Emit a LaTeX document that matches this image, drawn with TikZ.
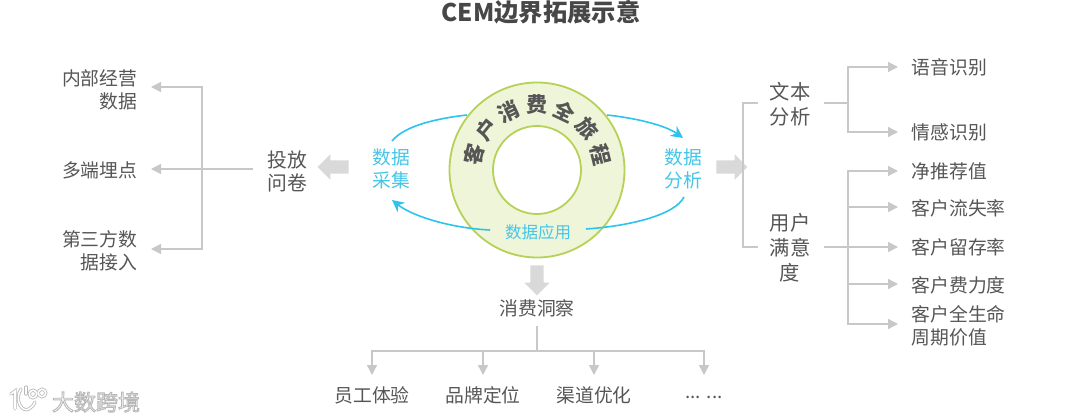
\documentclass[tikz,border=0pt]{standalone}
\usepackage{fontspec}
\setmainfont{Noto Sans CJK SC}
\usetikzlibrary{arrows.meta,shapes.arrows}
\definecolor{txt}{HTML}{565656}
\definecolor{conn}{HTML}{C8C8C8}
\definecolor{fat}{HTML}{D9D9D9}
\definecolor{sky}{HTML}{45C6E8}
\definecolor{skyline}{HTML}{2CC4EC}
\definecolor{ringfill}{HTML}{EFF5D8}
\definecolor{ringline}{HTML}{B5D258}
\tikzset{
  lbl/.style={inner sep=0pt,text=txt,font=\fontsize{18.8}{23}\selectfont},
  leftlbl/.style={lbl,align=right,anchor=east},
  rightlbl/.style={lbl,align=left,anchor=west},
  midlbl/.style={lbl,align=center},
  biglbl/.style={lbl,align=center,font=\fontsize{20.3}{25}\selectfont},
  bluelbl/.style={midlbl,text=sky},
  link/.style={draw=conn,line width=1.4pt},
  linkarrow/.style={link,-{Triangle[length=10pt,width=10pt,fill=conn]}},
  loopline/.style={draw=skyline,line width=1.6pt},
  looparrow/.style={loopline,-{Stealth[length=12pt,width=12pt,fill=skyline]}},
  fatarrow/.style={single arrow,fill=fat,draw=none,minimum height=31pt,single arrow head extend=6pt,single arrow head indent=0pt,inner sep=0pt},
  ringchar/.style={inner sep=0pt,text=txt,font=\fontsize{21}{21}\selectfont\bfseries},
  wmark/.style={inner sep=0pt,font=\fontsize{22}{22}\selectfont},
  wmglow/.style={draw=black!28,line width=3.2pt,line cap=round},
  wmline/.style={draw=white,line width=1.6pt,line cap=round}
}
\begin{document}
\begin{tikzpicture}[x=1pt,y=-1pt]
\useasboundingbox (0,0) rectangle (1080,420);
\fill[white] (0,0) rectangle (1080,420);

\node[inner sep=0pt,text=black!72,font=\fontsize{24.3}{25}\selectfont\bfseries] (title) at (541,12) {CEM边界拓展示意};

% ring
\node[circle,draw=ringline,fill=ringfill,line width=1.8pt,minimum size=175pt,inner sep=0pt] (outer) at (537,170) {};
\node[circle,draw=ringline,fill=white,line width=1.8pt,minimum size=88pt,inner sep=0pt] (inner) at (537,170) {};
\foreach \c/\a [count=\i] in {客/-76.5,户/-51,消/-25.5,费/0,全/25.5,旅/51,程/76.5}
  \node[ringchar,rotate=-\a] (rc\i) at ({537+65*sin(\a)},{170-65*cos(\a)}) {\c};

% loop labels
\node[bluelbl] (collect) at (391,169) {数据\\采集};
\node[bluelbl] (analyse) at (683,169) {数据\\分析};
\node[bluelbl,font=\fontsize{16.5}{20}\selectfont] (apply) at (538,232) {数据应用};

% loop arrows
\coordinate (tl1) at (392,141); \coordinate (tl2) at (467,115);
\coordinate (tr1) at (607,115); \coordinate (tr2) at (683,138);
\coordinate (br1) at (684,197); \coordinate (br2) at (586,229);
\coordinate (bl1) at (490,230); \coordinate (bl2) at (392,200);
\draw[loopline] (tl1) .. controls (405,125) and (440,118) .. (tl2);
\draw[looparrow] (tr1) .. controls (635,118) and (665,125) .. (tr2);
\draw[loopline] (br1) .. controls (675,215) and (630,226) .. (br2);
\draw[looparrow] (bl1) .. controls (450,228) and (412,216) .. (bl2);

% fat arrows
\node[fatarrow,rotate=180] (fatL) at (336.5,167) {\rule{0pt}{13pt}};
\node[fatarrow] (fatR) at (728.5,167) {\rule{0pt}{13pt}};
\node[fatarrow,rotate=-90,minimum height=30pt] (fatD) at (537,277) {\rule{0pt}{13pt}};

% left side
\node[leftlbl] (l1) at (137.5,89.5) {内部经营\\数据};
\node[leftlbl] (l2) at (137.5,170) {多端埋点};
\node[leftlbl] (l3) at (137.5,250.5) {第三方数\\据接入};
\node[biglbl,font=\fontsize{19.8}{23}\selectfont] (survey) at (287,171.5) {投放\\问卷};
\coordinate (ljt) at (202,87); \coordinate (ljm) at (202,169); \coordinate (ljb) at (202,249);
\coordinate (lt1) at (151,87); \coordinate (lt2) at (151,169); \coordinate (lt3) at (151,249);
\coordinate (ls) at (253,169);
\draw[linkarrow] (ls) -- (lt2);
\draw[linkarrow] (ljm) -- (ljt) -- (lt1);
\draw[linkarrow] (ljm) -- (ljb) -- (lt3);

% right side
\node[biglbl] (text) at (790,104.5) {文本\\分析};
\node[biglbl] (sat) at (790,248) {用户\\满意\\度};
\coordinate (rbt) at (743,103); \coordinate (rbb) at (743,247);
\coordinate (rs1) at (758,103); \coordinate (rs2) at (758,247);
\draw[link] (rs1) -- (rbt) -- (rbb) -- (rs2);

\node[rightlbl] (r1) at (911.5,67) {语音识别};
\node[rightlbl] (r2) at (911.5,132) {情感识别};
\node[rightlbl] (r3) at (911.5,171) {净推荐值};
\node[rightlbl] (r4) at (911.5,208) {客户流失率};
\node[rightlbl] (r5) at (911.5,247) {客户留存率};
\node[rightlbl] (r6) at (911.5,285) {客户费力度};
\node[rightlbl] (r7) at (911.5,325.5) {客户全生命\\周期价值};

\coordinate (ta) at (824,103); \coordinate (tj) at (848,103);
\coordinate (tjt) at (848,67); \coordinate (tjb) at (848,132);
\coordinate (t1) at (898,67); \coordinate (t2) at (898,132);
\draw[link] (ta) -- (tj);
\draw[linkarrow] (tj) -- (tjt) -- (t1);
\draw[linkarrow] (tj) -- (tjb) -- (t2);

\coordinate (sa) at (824,247); \coordinate (sj) at (848,247);
\coordinate (sjt) at (848,171); \coordinate (sj4) at (848,207);
\coordinate (sj6) at (848,284); \coordinate (sjb) at (848,324);
\coordinate (s3) at (898,171); \coordinate (s4) at (898,207); \coordinate (s5) at (898,247);
\coordinate (s6) at (898,284); \coordinate (s7) at (898,324);
\draw[linkarrow] (sa) -- (s5);
\draw[linkarrow] (sj) -- (sjt) -- (s3);
\draw[linkarrow] (sj4) -- (s4);
\draw[linkarrow] (sj6) -- (s6);
\draw[linkarrow] (sj) -- (sjb) -- (s7);

% bottom
\node[midlbl] (insight) at (537,308) {消费洞察};
\node[midlbl] (b1) at (372,395) {员工体验};
\node[midlbl] (b2) at (483,395) {品牌定位};
\node[midlbl] (b3) at (594,395) {渠道优化};
\node[midlbl] (b4) at (704,397) {... ...};
\coordinate (bs) at (537,326); \coordinate (bj) at (537,351);
\coordinate (bh1) at (372,351); \coordinate (bh2) at (483,351);
\coordinate (bh3) at (594,351); \coordinate (bh4) at (704,351);
\coordinate (bt1) at (372,375); \coordinate (bt2) at (483,375);
\coordinate (bt3) at (594,375); \coordinate (bt4) at (704,375);
\draw[link] (bs) -- (bj);
\draw[linkarrow] (bj) -- (bh1) -- (bt1);
\draw[linkarrow] (bj) -- (bh4) -- (bt4);
\draw[linkarrow] (bh2) -- (bt2);
\draw[linkarrow] (bh3) -- (bt3);

% watermark
\foreach \st in {wmglow,wmline}{
  \draw[\st] (11,394) -- (15,391) -- (15,409);
  \draw[\st] (21,389) .. controls (14,400) and (22,413) .. (29,409) .. controls (32,407) and (34,405) .. (35,402);
  \draw[\st] (26,387) -- (26,394);
  \draw[\st] (33,394) circle[radius=3.8];
  \draw[\st] (42,393) circle[radius=3.8];
}
\node[wmark] (wm) at (96,402) {\special{pdf:code q 2 Tr 0.9 w 0.72 0.72 0.72 RG 1 1 1 rg}大数跨境\special{pdf:code 0 Tr Q}};
\end{tikzpicture}
\end{document}
